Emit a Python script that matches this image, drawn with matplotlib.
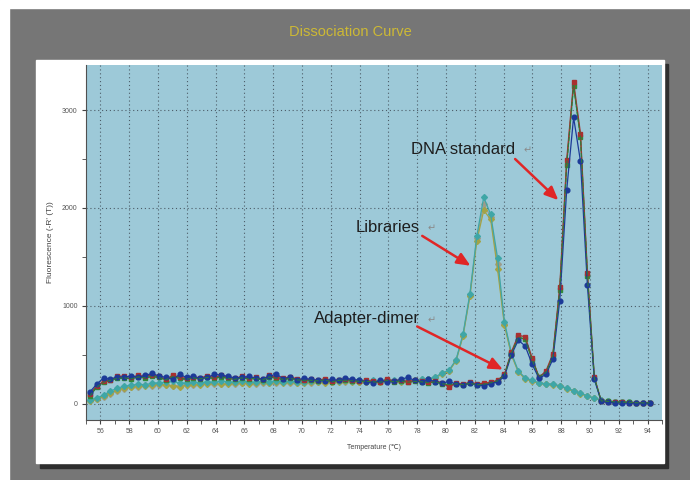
import numpy as np, matplotlib
matplotlib.use("Agg")
import matplotlib.pyplot as plt
from matplotlib.patches import Rectangle
from matplotlib.ticker import MultipleLocator

plt.rcParams["font.family"] = ["Liberation Sans", "DejaVu Sans"]

# melt temperatures (deg C)
temps = [55.26, 55.74, 56.22, 56.70, 57.18, 57.66, 58.14, 58.62, 59.10, 59.58,
         60.06, 60.54, 61.02, 61.50, 61.98, 62.46, 62.94, 63.42, 63.90, 64.38,
         64.86, 65.34, 65.82, 66.30, 66.78, 67.26, 67.74, 68.22, 68.70, 69.18,
         69.66, 70.14, 70.62, 71.10, 71.58, 72.06, 72.54, 73.02, 73.50, 73.98,
         74.46, 74.94, 75.42, 75.90, 76.38, 76.86, 77.34, 77.82, 78.30, 78.78,
         79.26, 79.74, 80.22, 80.70, 81.18, 81.66, 82.14, 82.62, 83.10, 83.58,
         84.06, 84.54, 85.02, 85.50, 85.98, 86.46, 86.94, 87.42, 87.90, 88.38,
         88.86, 89.34, 89.82, 90.30, 90.78, 91.26, 91.74, 92.22, 92.70, 93.18,
         93.66, 94.14]

# DNA standard wells
std_blue = [120, 200, 265, 250, 275, 270, 285, 270, 290, 310,
            285, 270, 250, 300, 270, 280, 260, 270, 300, 295,
            280, 265, 270, 280, 260, 255, 280, 305, 255, 270,
            245, 260, 250, 240, 235, 250, 240, 260, 250, 240,
            225, 215, 240, 220, 230, 250, 270, 240, 220, 250,
            225, 210, 230, 200, 195, 210, 195, 185, 205, 225,
            280, 500, 650, 590, 405, 260, 300, 455, 1055, 2180,
            2925, 2475, 1210, 250, 25, 15, 12, 10, 8, 8, 5, 5]
std_red = [100, 180, 230, 245, 280, 285, 270, 290, 280, 295,
           280, 250, 290, 270, 260, 275, 265, 285, 270, 290,
           270, 260, 280, 265, 270, 250, 290, 270, 260, 275,
           255, 245, 250, 240, 255, 230, 245, 250, 240, 235,
           240, 230, 225, 250, 235, 245, 225, 240, 230, 220,
           235, 215, 170, 215, 200, 220, 205, 210, 220, 240,
           300, 530, 700, 685, 470, 270, 335, 510, 1190, 2490,
           3290, 2760, 1340, 275, 25, 20, 15, 15, 12, 10, 10, 8]
std_green = [80, 170, 220, 240, 260, 265, 255, 275, 265, 280,
             270, 245, 280, 260, 250, 265, 255, 270, 260, 275,
             260, 250, 265, 255, 260, 245, 275, 260, 250, 260,
             245, 240, 240, 235, 245, 225, 240, 240, 235, 230,
             230, 225, 220, 240, 225, 235, 220, 230, 225, 215,
             225, 205, 195, 205, 195, 210, 195, 200, 215, 235,
             295, 520, 680, 660, 450, 275, 320, 490, 1160, 2440,
             3250, 2720, 1310, 265, 30, 25, 20, 18, 15, 12, 10, 10]

# library wells
lib_teal = [40, 60, 90, 130, 160, 180, 190, 200, 195, 210,
            215, 220, 230, 210, 215, 220, 215, 225, 220, 230,
            225, 220, 230, 225, 220, 230, 225, 235, 225, 230,
            220, 225, 235, 230, 240, 230, 235, 240, 235, 240,
            230, 240, 235, 245, 240, 235, 245, 240, 250, 255,
            275, 315, 345, 450, 710, 1125, 1715, 2110, 1935, 1490,
            835, 520, 335, 265, 240, 215, 205, 200, 185, 160,
            135, 110, 80, 60, 40, 28, 22, 18, 15, 12, 10, 10]
lib_olive = [30, 45, 80, 115, 140, 165, 170, 185, 180, 190,
             200, 195, 185, 175, 190, 200, 195, 205, 210, 200,
             205, 210, 215, 205, 210, 220, 215, 220, 210, 220,
             215, 210, 220, 225, 215, 225, 220, 230, 225, 225,
             220, 230, 225, 235, 230, 225, 235, 240, 245, 250,
             265, 305, 335, 440, 690, 1100, 1665, 1975, 1885, 1375,
             800, 500, 325, 255, 230, 210, 200, 195, 180, 155,
             130, 105, 78, 55, 38, 26, 20, 16, 14, 12, 10, 8]
lib_gray = [35, 50, 70, 100, 135, 150, 175, 170, 190, 185,
            195, 190, 180, 185, 195, 190, 200, 210, 200, 205,
            210, 200, 210, 215, 205, 215, 210, 215, 220, 215,
            210, 220, 215, 220, 225, 220, 230, 225, 230, 220,
            225, 235, 230, 240, 235, 230, 240, 245, 250, 255,
            270, 310, 340, 445, 700, 1110, 1690, 2040, 1910, 1430,
            815, 510, 330, 260, 235, 212, 202, 198, 182, 158,
            132, 108, 80, 58, 40, 27, 21, 17, 14, 12, 10, 9]

# annotations: label, text anchor, arrow tail, arrow head
notes = [("DNA standard", (77.6, 2600), (84.8, 2500), (87.8, 2080)),
         ("Libraries", (73.7, 1805), (78.35, 1715), (81.7, 1410)),
         ("Adapter-dimer", (70.8, 870), (78.0, 790), (83.95, 350))]

W, H = 690, 480
fig = plt.figure(figsize=(W/100, H/100), dpi=100, facecolor="#767676")
# frame decoration (white margins, shadow, white panel)
fig.patches.append(Rectangle((0, 1-8/H), 1, 8/H, transform=fig.transFigure, color="white", zorder=0))
fig.patches.append(Rectangle((0, 0), 9/W, 1, transform=fig.transFigure, color="white", zorder=0))
fig.patches.append(Rectangle((40/W, 12/H), 628/W, 404/H, transform=fig.transFigure, color="#2e2e2e", zorder=0))
fig.patches.append(Rectangle((36/W, 17/H), 628/W, 403/H, transform=fig.transFigure, color="white", zorder=0))
fig.text(350/W, 1-32/H, "Dissociation Curve", color="#cdb935", fontsize=10.5, ha="center", va="center")

ax = fig.add_axes([86/W, 60/H, 576/W, 355/H], facecolor="#9dc9d8")
ax.set_zorder(3)
ax.set_xlim(55, 95); ax.set_ylim(-165, 3460)

t = np.array(temps)
libs = [(lib_gray, "#9c9c8c"), (lib_olive, "#a3a346"), (lib_teal, "#3fa6a6")]
for vals, c in libs:
    ax.plot(t, vals, "-D", color=c, lw=0.9, ms=3.0, mec=c, zorder=4)
stds = [(std_green, "#2f8a3a", "s"), (std_red, "#a83030", "s"), (std_blue, "#1c3a98", "o")]
for vals, c, m in stds:
    ax.plot(t, vals, "-"+m, color=c, lw=0.9, ms=3.4, mec=c, zorder=5)
# green dashed overlay on the standards like the instrument draws
ax.plot(t, std_green, "--", color="#2f7a3a", lw=0.8, zorder=6)

for lab, txy, a0, a1 in notes:
    tx = ax.text(txy[0], txy[1], lab, fontsize=12, color="#1e1e1e", ha="left", va="center", zorder=8)
    ax.annotate("\u21b5", xy=(1, 0.5), xycoords=tx, xytext=(6, -1), textcoords="offset points",
                fontsize=7, color="#8a8a8a", ha="left", va="center", zorder=8)
    ax.annotate("", xy=a1, xytext=a0, zorder=7,
                arrowprops=dict(arrowstyle="-|>,head_length=0.8,head_width=0.35", color="#e02626",
                                lw=1.8, shrinkA=0, shrinkB=0))

ax.xaxis.set_major_locator(MultipleLocator(2)); ax.xaxis.set_minor_locator(MultipleLocator(1))
ax.yaxis.set_major_locator(MultipleLocator(1000)); ax.yaxis.set_minor_locator(MultipleLocator(500))
ax.grid(which="major", ls=(0, (1, 2.5)), color="#4c5c68", lw=0.8)
for s in ["top", "right"]: ax.spines[s].set_visible(False)
for s in ["left", "bottom"]: ax.spines[s].set_color("#505050")
ax.tick_params(which="both", direction="out", length=3, color="#444444", labelsize=5, labelcolor="#555555", pad=3)
ax.set_xlabel("Temperature (\u2103)", fontsize=5, color="#444444", labelpad=6)
ax.set_ylabel("Fluorescence (-R' (T))", fontsize=6, color="#444444", labelpad=6)

fig.savefig("out.png", dpi=100, facecolor=fig.get_facecolor())
